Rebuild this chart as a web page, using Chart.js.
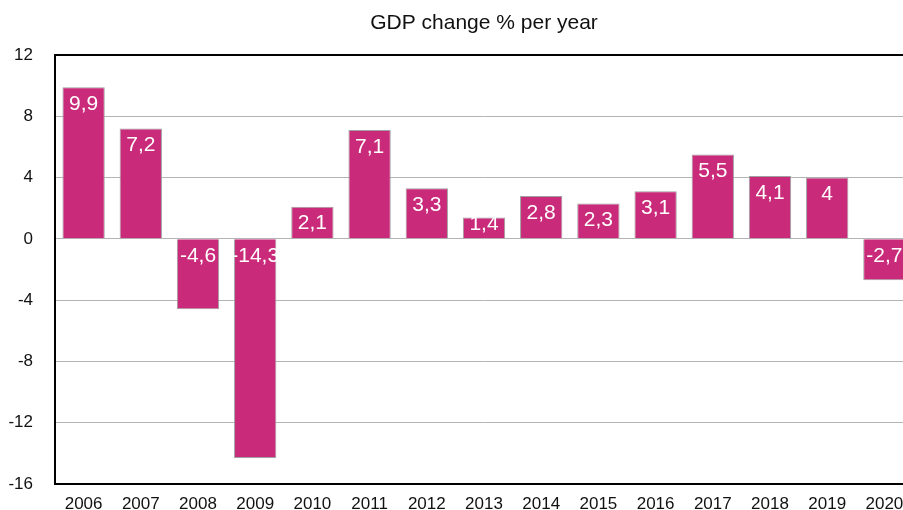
<!DOCTYPE html>
<html>
<head>
<meta charset="utf-8">
<script src="https://cdn.jsdelivr.net/npm/chart.js@4/dist/chart.umd.min.js"></script>
<style>
  html, body { margin: 0; padding: 0; overflow: hidden; background: #fff; }
  #gdpChart { display: block; }
</style>
</head>
<body>
<canvas id="gdpChart" width="968" height="510"></canvas>
<script>
var years = ['2006', '2007', '2008', '2009', '2010', '2011', '2012', '2013', '2014', '2015', '2016', '2017', '2018', '2019', '2020']
var gdp_change = [9.9, 7.2, -4.6, -14.3, 2.1, 7.1, 3.3, 1.4, 2.8, 2.3, 3.1, 5.5, 4.1, 4.0, -2.7]
var chart_title = 'GDP change % per year'

var fontFamily = '"Liberation Sans", Arial, Helvetica, sans-serif'

// white value labels near the top of each bar (comma decimals)
var valueLabels = {
    id: 'valueLabels',
    afterDatasetsDraw: function (chart) {
        var ctx = chart.ctx
        var meta = chart.getDatasetMeta(0)
        ctx.save()
        ctx.fillStyle = '#ffffff'
        ctx.font = '21px ' + fontFamily
        ctx.textAlign = 'center'
        ctx.textBaseline = 'middle'
        meta.data.forEach(function (bar, i) {
            var text = String(gdp_change[i]).replace('.', ',')
            var y
            if (bar.y < bar.base) {
                // positive bar: near top, but not pushed under the zero line
                y = Math.min(bar.y + 17, bar.base - 14)
            } else {
                y = bar.base + 17
            }
            ctx.fillText(text, bar.x, y)
        })
        ctx.restore()
    }
}

// title centred over the plot area
var plotTitle = {
    id: 'plotTitle',
    afterDraw: function (chart) {
        var ctx = chart.ctx
        var area = chart.chartArea
        ctx.save()
        ctx.fillStyle = '#111'
        ctx.font = '21px ' + fontFamily
        ctx.textAlign = 'center'
        ctx.textBaseline = 'middle'
        ctx.fillText(chart_title, (area.left + area.right) / 2, 23)
        ctx.restore()
    }
}

function isEdge(c) {
    return c.tick && (c.tick.value === 12 || c.tick.value === -16)
}

const ctx0 = document.getElementById('gdpChart')

var gdp_chart = new Chart(ctx0, {
    type: 'bar',
    data: {
        labels: years,
        datasets: [
            {
                label: 'GDP change',
                data: gdp_change,
                backgroundColor: '#c92a79',
                borderColor: '#a0a0a0',
                borderWidth: 1,
                categoryPercentage: 1,
                barPercentage: 0.74
            }
        ]
    },
    options: {
        responsive: false,
        animation: false,
        layout: {
            padding: { left: 0, top: 55, right: 55, bottom: 0 }
        },
        plugins: {
            legend: { display: false },
            title: { display: false },
            tooltip: { enabled: false }
        },
        scales: {
            x: {
                grid: { display: false, drawTicks: false },
                border: { display: true, color: '#000', width: 2 },
                ticks: {
                    color: '#111',
                    padding: 10,
                    maxRotation: 0,
                    font: { size: 17, family: fontFamily }
                },
                afterFit: function (scale) { scale.height = 26 }
            },
            y: {
                min: -16,
                max: 12,
                grid: {
                    tickLength: 18,
                    tickColor: 'rgba(0,0,0,0)',
                    color: function (c) { return isEdge(c) ? '#000' : '#b4b4b4' },
                    lineWidth: function (c) { return isEdge(c) ? 2 : 1 }
                },
                border: { display: true, color: '#000', width: 2 },
                ticks: {
                    stepSize: 4,
                    color: '#111',
                    padding: 4,
                    font: { size: 17, family: fontFamily }
                },
                afterFit: function (scale) { scale.width = 55 }
            }
        }
    },
    plugins: [valueLabels, plotTitle]
})
</script>
</body>
</html>
